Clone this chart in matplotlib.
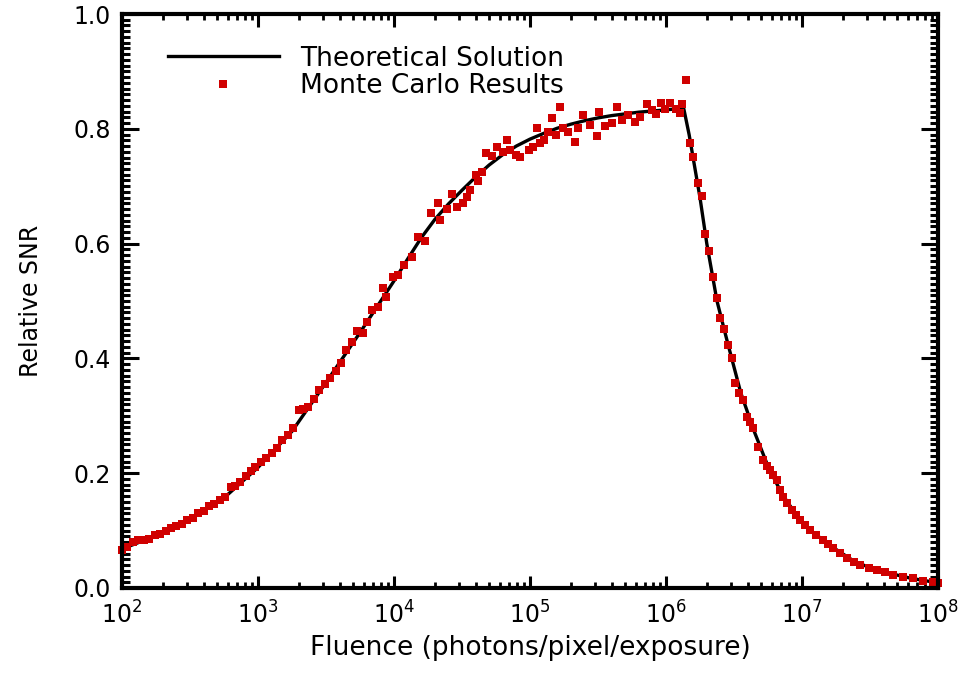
import numpy as np
import matplotlib
matplotlib.use("Agg")
import matplotlib.pyplot as plt
from matplotlib.ticker import MultipleLocator, FormatStrFormatter, FixedLocator, NullFormatter

plt.rcParams["font.family"] = ["DejaVu Sans"]
plt.rcParams["mathtext.default"] = "regular"

# theoretical curve: log10(fluence) and relative SNR
theory_logx = [2.00, 2.25, 2.50, 2.75, 3.00, 3.25, 3.50, 3.75, 4.00, 4.10, 4.20,
               4.30, 4.40, 4.50, 4.60, 4.70, 4.80, 4.90, 5.00, 5.10, 5.20, 5.30,
               5.40, 5.50, 5.60, 5.70, 5.80, 5.90, 6.00, 6.13, 6.17, 6.25, 6.30,
               6.375, 6.45, 6.55, 6.65, 6.75, 6.85, 6.95, 7.05, 7.20, 7.40, 7.60,
               7.80, 8.00]
theory_snr = [0.068, 0.091, 0.120, 0.157, 0.210, 0.273, 0.358, 0.445, 0.535,
              0.573, 0.610, 0.642, 0.669, 0.693, 0.716, 0.737, 0.755, 0.770,
              0.782, 0.792, 0.801, 0.808, 0.814, 0.819, 0.823, 0.826, 0.829,
              0.831, 0.833, 0.836, 0.790, 0.680, 0.600, 0.500, 0.430, 0.340,
              0.272, 0.212, 0.165, 0.130, 0.103, 0.075, 0.044, 0.028, 0.017,
              0.009]

# Monte Carlo results
mc_logx = [2.00, 2.04, 2.08, 2.12, 2.16, 2.20, 2.24, 2.28, 2.32, 2.36, 2.40,
           2.44, 2.48, 2.52, 2.56, 2.60, 2.64, 2.68, 2.72, 2.76, 2.80, 2.83,
           2.87, 2.91, 2.95, 2.98, 3.02, 3.06, 3.10, 3.14, 3.18, 3.22, 3.26,
           3.30, 3.33, 3.37, 3.41, 3.45, 3.49, 3.53, 3.57, 3.61, 3.65, 3.69,
           3.73, 3.77, 3.80, 3.84, 3.88, 3.92, 3.94, 3.99, 4.03, 4.07, 4.13,
           4.18, 4.23, 4.27, 4.32, 4.34, 4.39, 4.43, 4.46, 4.51, 4.54, 4.56,
           4.60, 4.62, 4.65, 4.68, 4.72, 4.76, 4.80, 4.83, 4.85, 4.90, 4.93,
           4.99, 5.02, 5.05, 5.07, 5.10, 5.13, 5.16, 5.19, 5.22, 5.24, 5.28,
           5.33, 5.35, 5.39, 5.44, 5.49, 5.51, 5.55, 5.60, 5.64, 5.68, 5.72,
           5.77, 5.81, 5.86, 5.90, 5.93, 5.96, 5.99, 6.03, 6.07, 6.10, 6.12,
           6.15, 6.18, 6.20, 6.235, 6.265, 6.287, 6.316, 6.346, 6.375, 6.397,
           6.426, 6.456, 6.485, 6.507, 6.54, 6.566, 6.596, 6.62, 6.64, 6.676,
           6.713, 6.74, 6.765, 6.79, 6.816, 6.84, 6.86, 6.89, 6.926, 6.955,
           6.985, 7.02, 7.059, 7.10, 7.154, 7.19, 7.228, 7.28, 7.331, 7.38,
           7.426, 7.49, 7.551, 7.61, 7.669, 7.74, 7.816, 7.89, 7.963, 8.00]
mc_snr = [0.066, 0.072, 0.080, 0.083, 0.083, 0.086, 0.092, 0.094, 0.100, 0.104,
          0.108, 0.112, 0.119, 0.122, 0.130, 0.134, 0.142, 0.146, 0.153, 0.159,
          0.176, 0.178, 0.184, 0.195, 0.203, 0.211, 0.220, 0.227, 0.236, 0.244,
          0.258, 0.267, 0.278, 0.310, 0.312, 0.316, 0.330, 0.345, 0.356, 0.366,
          0.378, 0.392, 0.414, 0.428, 0.447, 0.444, 0.463, 0.484, 0.490, 0.523,
          0.507, 0.542, 0.545, 0.563, 0.577, 0.611, 0.605, 0.653, 0.670, 0.641,
          0.660, 0.686, 0.664, 0.670, 0.681, 0.693, 0.720, 0.709, 0.725, 0.758,
          0.752, 0.768, 0.760, 0.780, 0.763, 0.754, 0.751, 0.763, 0.768, 0.801,
          0.775, 0.780, 0.794, 0.819, 0.790, 0.838, 0.801, 0.794, 0.777, 0.801,
          0.824, 0.806, 0.788, 0.829, 0.805, 0.810, 0.838, 0.815, 0.824, 0.812,
          0.821, 0.843, 0.833, 0.826, 0.845, 0.834, 0.845, 0.834, 0.828, 0.843,
          0.885, 0.775, 0.751, 0.706, 0.683, 0.617, 0.587, 0.542, 0.505, 0.470,
          0.451, 0.423, 0.400, 0.357, 0.340, 0.328, 0.298, 0.290, 0.279, 0.246,
          0.223, 0.212, 0.206, 0.196, 0.188, 0.170, 0.159, 0.148, 0.136, 0.127,
          0.118, 0.109, 0.101, 0.093, 0.084, 0.077, 0.070, 0.061, 0.052, 0.046,
          0.040, 0.035, 0.031, 0.027, 0.023, 0.020, 0.017, 0.013, 0.010, 0.008]

decades = [2, 3, 4, 5, 6, 7, 8]
x_ticklabels = ["$10^{%d}$" % d for d in decades]

theory_x = 10 ** np.array(theory_logx)
mc_x = 10 ** np.array(mc_logx)

fig = plt.figure(figsize=(9.66, 6.8), dpi=100)
ax = fig.add_axes([0.1263, 0.1353, 0.8447, 0.8441])

ax.plot(theory_x, theory_snr, color="black", lw=2.4, label="Theoretical Solution", zorder=2)
ax.plot(mc_x, mc_snr, ls="none", marker="s", ms=5.4, mew=0,
        color="#d00000", label="Monte Carlo Results", zorder=3, clip_on=False)

ax.set_xscale("log")
ax.set_xlim(1e2, 1e8)
ax.set_ylim(0.0, 1.0)

major_x = [10.0 ** d for d in decades]
minor_x = [m * 10.0 ** d for d in decades[:-1] for m in range(2, 10)]
ax.xaxis.set_major_locator(FixedLocator(major_x))
ax.set_xticklabels(x_ticklabels)
ax.xaxis.set_minor_locator(FixedLocator(minor_x))
ax.xaxis.set_minor_formatter(NullFormatter())
ax.yaxis.set_major_locator(MultipleLocator(0.2))
ax.yaxis.set_minor_locator(MultipleLocator(0.01))
ax.yaxis.set_major_formatter(FormatStrFormatter("%.1f"))

for s in ax.spines.values():
    s.set_linewidth(3.0)
    s.set_zorder(4)

ax.tick_params(axis="both", which="both", direction="in", top=True, right=True,
               labelsize=17, color="black")
ax.tick_params(axis="y", which="major", length=12, width=2.2, pad=8)
ax.tick_params(axis="y", which="minor", length=6, width=2.2)
ax.tick_params(axis="x", which="major", length=9, width=2.2, pad=10)
ax.tick_params(axis="x", which="minor", length=4, width=2.0)

ax.set_xlabel("Fluence (photons/pixel/exposure)", fontsize=19, labelpad=4)
ax.set_ylabel("Relative SNR", fontsize=17, labelpad=22)

ax.legend(loc="upper left", bbox_to_anchor=(0.056, 0.945), frameon=False,
          fontsize=19, handlelength=4.2, handletextpad=0.8, labelspacing=0.05,
          borderpad=0, borderaxespad=0, numpoints=1)

fig.savefig("out.png", dpi=100)
